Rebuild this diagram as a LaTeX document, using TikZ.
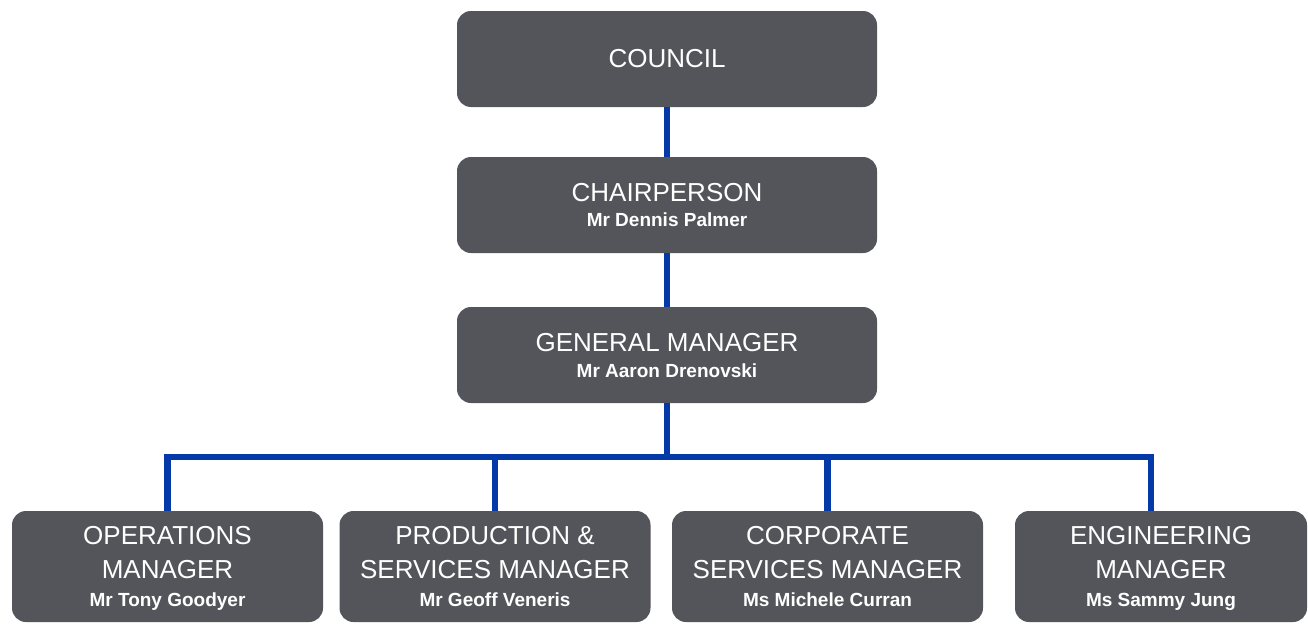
\documentclass[tikz,border=0pt]{standalone}
\usepackage{fontspec}
\setmainfont{Liberation Sans}
\definecolor{boxgray}{RGB}{84,85,90}
\definecolor{linkblue}{RGB}{4,58,168}
\newcommand{\who}[1]{\raisebox{0pt}[\height][0pt]{\fontsize{19}{22}\selectfont\bfseries #1}}
\tikzset{
  post/.style={fill=boxgray, rounded corners=14pt, inner sep=0pt, align=center,
    text=white, font=\fontsize{26}{34}\selectfont},
  head/.style={post, minimum width=420pt, minimum height=96pt},
  unit/.style={post, minimum width=311pt, minimum height=111pt},
  link/.style={linkblue, line width=6.5pt}
}
\begin{document}
\begin{tikzpicture}[x=1pt, y=-1pt]
      \useasboundingbox (0,0) rectangle (1308,624);
      \draw
        (667,59) node[head] (council){COUNCIL}
        (667,205) node[head] (chair){CHAIRPERSON\\[-9pt]\who{Mr Dennis Palmer}}
        (667,355) node[head] (gm){GENERAL MANAGER\\[-8pt]\who{Mr Aaron Drenovski}}
        (167.5,566.5) node[unit] (ops){OPERATIONS\\MANAGER\\[-6pt]\who{Mr Tony Goodyer}}
        (495,566.5) node[unit] (prod){PRODUCTION \&\\SERVICES MANAGER\\[-6pt]\who{Mr Geoff Veneris}}
        (827.5,566.5) node[unit] (corp){CORPORATE\\SERVICES MANAGER\\[-6pt]\who{Ms Michele Curran}}
        (1161,566.5) node[unit, minimum width=292pt] (eng){ENGINEERING\\MANAGER\\[-6pt]\who{Ms Sammy Jung}};
      \coordinate (bus) at (667,457);
      \begin{scope}[link]
        \draw (council) to (chair);
        \draw (chair) to (gm);
        \draw (gm) to (bus);
        \draw (ops) |- (bus);
        \draw (bus) -| ([xshift=-10pt]eng.north);
        \draw (prod) to (prod |- bus);
        \draw (corp) to (corp |- bus);
      \end{scope}
    \end{tikzpicture}
\end{document}
